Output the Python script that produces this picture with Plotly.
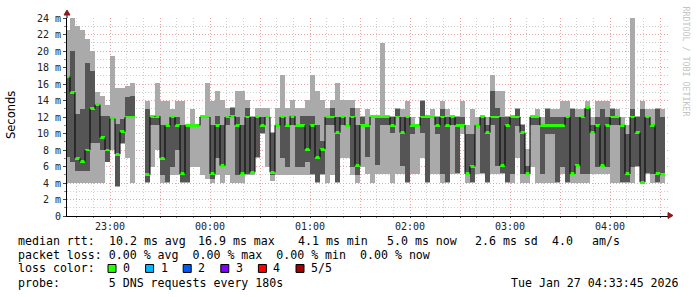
import plotly.graph_objects as go
import pandas as pd

# ---------------- data (ms) ----------------
START = "2026-01-26 22:33:00"   # start of first 180 s step
STEP_S = 180

rtt_min = [4.0, 4.0, 4.0, 4.0, 4.0, 4.0, 4.0, 4.0, 6.5, 8.0, 3.5, 8.7, 7.0, 4.0, None, None,
           4.0, 6.0, 8.0, 4.0, 4.0, 5.0, 5.0, 4.0, 4.0, 6.0, 6.0, 5.0, 4.5, 4.0, 5.0, 4.0,
           5.0, 4.0, 4.0, 4.0, 5.0, 5.0, 7.0, 10.0, 6.0, 4.3, 5.0, 5.0, 5.0, 5.0, 5.0, 5.0,
           5.0, 5.0, 4.0, 5.0, 4.0, 5.0, 4.0, 7.0, 7.0, 5.0, 4.0, 6.0, 5.1, 4.0, 5.1, 5.1,
           5.1, 4.0, 5.1, 5.1, 4.0, 5.1, 5.1, 7.0, 4.0, 5.1, 5.1, 4.0, 4.0, 5.1, 5.1, 10.0,
           4.0, 4.0, 5.1, 5.1, 4.0, 5.1, 5.1, 5.1, 4.0, 4.0, 7.0, 4.0, 4.0, 6.0, 4.0, 4.0,
           4.0, 4.0, 4.0, 5.1, 4.0, 4.0, 4.0, 4.0, 4.0, 5.1, 5.1, 5.1, 5.1, 4.0, 4.0, 4.0,
           4.0, 4.0, 6.0, 3.9, 5.1, 4.0, 4.0, 4.0]
rtt_q1 = [7.2, 6.6, 5.5, 5.5, 5.5, 8.9, 8.8, 8.0, 6.6, 11.7, 3.6, 8.8, 12.0, 12.0, None, None,
          4.1, 11.0, 11.0, 5.0, 4.1, 6.0, 8.0, 4.1, 4.1, 10.9, 10.9, 11.9, 11.9, 4.5, 7.0, 6.0,
          11.0, 11.9, 5.0, 5.0, 5.1, 5.2, 7.1, 10.1, 11.9, 5.0, 10.9, 7.0, 6.0, 11.0, 6.0, 6.0,
          6.5, 5.1, 4.1, 5.1, 11.0, 11.0, 4.1, 11.0, 10.9, 6.0, 5.0, 10.9, 7.1, 11.9, 6.2, 11.0,
          11.0, 10.1, 11.9, 6.1, 4.1, 10.0, 10.9, 10.1, 4.1, 11.9, 10.0, 5.1, 4.1, 11.0, 5.2, 10.9,
          5.0, 4.1, 10.9, 5.2, 4.1, 11.0, 6.1, 5.2, 4.1, 5.1, 10.9, 5.1, 5.0, 11.0, 11.0, 5.1,
          10.0, 10.0, 4.1, 6.0, 4.1, 5.0, 6.0, 5.1, 5.1, 10.0, 6.0, 6.0, 6.0, 11.0, 11.0, 4.1,
          4.1, 6.0, 6.1, 4.0, 5.2, 5.1, 4.1, 4.9]
rtt_median = [16.9, 15.0, 7.0, 6.6, 8.0, 13.0, 13.5, 9.5, 8.0, 11.8, 7.5, 10.2, 12.0, 12.0, None, None,
              5.0, 12.0, 12.1, 7.0, 11.0, 12.0, 11.0, 5.1, 11.0, 11.0, 11.0, 12.0, 12.0, 5.1, 11.0, 6.1,
              12.0, 12.1, 11.0, 5.1, 12.0, 5.3, 12.0, 11.0, 12.0, 5.3, 11.0, 12.0, 11.0, 12.1, 11.0, 11.0,
              8.1, 11.0, 7.1, 8.1, 12.0, 12.0, 10.1, 12.0, 11.0, 12.0, 6.1, 11.0, 11.0, 12.0, 12.0, 12.0,
              12.0, 11.0, 12.0, 10.1, 12.0, 11.0, 11.0, 12.0, 12.0, 12.0, 11.0, 12.0, 11.0, 12.0, 11.0, 11.0,
              5.1, 6.0, 11.0, 12.0, 10.1, 12.0, 12.0, 6.1, 11.0, 12.0, 12.0, 10.1, 5.1, 12.0, 12.0, 11.0,
              11.0, 11.0, 11.0, 11.0, 12.0, 5.1, 6.1, 12.0, 13.1, 10.1, 11.0, 6.1, 11.0, 12.0, 12.0, 11.0,
              5.1, 12.0, 10.1, 4.1, 12.0, 11.0, 5.1, 5.0]
rtt_q3 = [17.1, 20.0, 12.4, 13.0, 18.6, 17.6, 13.6, 12.1, 12.1, 11.9, 11.1, 11.7, 14.4, 14.5, None, None,
          13.0, 12.0, 12.2, 11.0, 11.1, 12.1, 12.0, 11.0, 11.0, 11.1, 11.1, 12.1, 12.1, 11.0, 12.1, 11.0,
          12.1, 13.1, 12.0, 11.0, 13.1, 12.0, 12.1, 12.0, 12.1, 10.1, 11.1, 12.1, 11.1, 12.2, 11.1, 12.1,
          12.1, 12.1, 11.0, 9.1, 12.1, 13.1, 12.0, 12.1, 11.1, 13.1, 11.0, 12.0, 11.1, 12.1, 12.1, 12.1,
          12.1, 12.0, 13.0, 12.0, 12.1, 11.1, 11.1, 14.0, 12.1, 12.1, 12.0, 13.0, 12.0, 12.1, 12.0, 12.0,
          10.0, 10.0, 11.1, 12.1, 11.0, 15.1, 13.1, 12.0, 12.0, 12.1, 13.0, 11.0, 6.1, 12.1, 12.1, 11.1,
          13.0, 12.0, 12.0, 12.0, 12.1, 13.0, 12.0, 12.1, 13.2, 11.0, 12.0, 13.0, 12.0, 13.0, 12.1, 11.1,
          10.0, 13.0, 12.0, 13.0, 12.1, 11.1, 13.0, 12.0]
rtt_max = [22.6, 24.1, 23.0, 22.6, 21.4, 20.0, 15.0, 14.6, 13.5, 19.4, 15.5, 15.5, 15.7, 16.1, None, None,
           14.0, 12.2, 16.1, 14.0, 14.0, 13.0, 14.0, 14.0, 11.1, 13.0, 11.2, 12.2, 16.1, 14.0, 15.1, 14.1,
           13.1, 13.2, 15.1, 15.1, 14.1, 12.1, 13.1, 13.1, 13.1, 10.2, 13.1, 17.1, 13.1, 14.1, 13.1, 13.1,
           14.1, 17.1, 15.1, 14.1, 13.1, 14.1, 16.1, 14.1, 14.1, 14.1, 13.1, 12.1, 13.0, 12.2, 12.2, 21.0,
           12.2, 12.1, 13.1, 13.0, 14.0, 12.0, 11.2, 14.1, 12.2, 13.0, 12.1, 14.0, 13.0, 12.2, 12.1, 14.0,
           11.0, 13.0, 12.0, 12.2, 12.0, 17.1, 15.1, 15.1, 12.1, 12.2, 13.1, 11.1, 8.1, 12.2, 13.0, 12.0,
           13.1, 13.0, 13.0, 14.0, 14.0, 13.1, 13.0, 13.0, 14.0, 12.0, 14.0, 14.0, 14.0, 13.1, 13.0, 12.0,
           11.0, 24.1, 12.1, 14.0, 13.0, 13.0, 13.1, 13.0]

y_tick_values = [0, 2, 4, 6, 8, 10, 12, 14, 16, 18, 20, 22, 24]
y_tick_labels = ["0", "2 m", "4 m", "6 m", "8 m", "10 m", "12 m", "14 m", "16 m",
                 "18 m", "20 m", "22 m", "24 m"]
x_tick_values = ["2026-01-26 22:30", "2026-01-26 23:00", "2026-01-26 23:30", "2026-01-27 00:00",
                 "2026-01-27 00:30", "2026-01-27 01:00", "2026-01-27 01:30", "2026-01-27 02:00",
                 "2026-01-27 02:30", "2026-01-27 03:00", "2026-01-27 03:30", "2026-01-27 04:00",
                 "2026-01-27 04:30"]
x_tick_labels = ["", "23:00", "", "00:00", "", "01:00", "", "02:00", "", "03:00", "", "04:00", ""]

loss_labels = ["0", "1", "2", "3", "4", "5/5"]
loss_colors = ["#26ff00", "#00b8ff", "#0059ff", "#7e00ff", "#ff0000", "#a10000"]

# legend rows: (text pieces, x positions in px)
rtt_pieces = ["median rtt:", "10.2 ms avg", "16.9 ms max", "4.1 ms min", "5.0 ms now",
              "2.6 ms sd", "4.0", "am/s"]
rtt_piece_x = [16, 107, 196, 296, 385, 473, 550, 590]
loss_line = "packet loss: 0.00 % avg  0.00 % max  0.00 % min  0.00 % now"
color_line = "loss color:"
probe_line = "probe:       5 DNS requests every 180s"
stamp = "Tue Jan 27 04:33:45 2026"

# ---------------- derived ----------------
n = len(rtt_median)
t_start = pd.date_range(START, periods=n, freq=f"{STEP_S}s")
t_mid = t_start + pd.Timedelta(seconds=STEP_S / 2)
step_ms = STEP_S * 1000


def diff(a, b):
    return [None if (x is None or y is None) else round(y - x, 3) for x, y in zip(a, b)]


fig = go.Figure()
# outer smoke (min..max)
fig.add_bar(x=t_mid, y=diff(rtt_min, rtt_max), base=[v if v is not None else 0 for v in rtt_min],
            width=step_ms, marker=dict(color="#aaaaaa", line=dict(width=0)), hoverinfo="skip")
# inner smoke (2nd..4th ping)
fig.add_bar(x=t_mid, y=diff(rtt_q1, rtt_q3), base=[v if v is not None else 0 for v in rtt_q1],
            width=step_ms, marker=dict(color="#555555", line=dict(width=0)), hoverinfo="skip")
# median (green, loss 0)
GH = 0.36
fig.add_bar(x=t_mid, y=[GH if m is not None else None for m in rtt_median],
            base=[m - GH / 2 if m is not None else 0 for m in rtt_median],
            width=step_ms, marker=dict(color=loss_colors[0], line=dict(width=0)), hoverinfo="skip")

# black vertical connectors between consecutive medians
vx, vy = [], []
for k in range(n - 1):
    a, b = rtt_median[k], rtt_median[k + 1]
    if a is None or b is None:
        continue
    vx += [t_start[k + 1], t_start[k + 1], None]
    vy += [a, b, None]
fig.add_scatter(x=vx, y=vy, mode="lines", line=dict(color="black", width=1),
                hoverinfo="skip", connectgaps=False)

# ---------------- layout ----------------
L, R, T, B = 67, 29, 16, 81
W, H = 697, 297
PW, PH = W - L - R, H - T - B


def px(x, y):
    return (x - L) / PW, (H - B - y) / PH


MONO = "DejaVu Sans Mono"
grid_dash = "1px,2px"

fig.update_layout(
    width=W, height=H, margin=dict(l=L, r=R, t=T, b=B),
    paper_bgcolor="white", plot_bgcolor="white",
    barmode="overlay", bargap=0, showlegend=False,
    xaxis=dict(
        type="date",
        range=["2026-01-26 22:34:12", "2026-01-27 04:34:48"],
        tickmode="array", tickvals=x_tick_values, ticktext=x_tick_labels,
        showgrid=True, gridcolor="#e8a4a4", griddash=grid_dash, gridwidth=1,
        minor=dict(tickmode="linear", tick0="2026-01-26 22:30", dtick=600000,
                   showgrid=True, gridcolor="#cfcfcf", griddash=grid_dash, gridwidth=1,
                   ticks="outside", ticklen=1, tickcolor="#888888"),
        ticks="outside", ticklen=1, tickcolor="#444444",
        showline=True, linecolor="black", linewidth=1, zeroline=False,
        tickfont=dict(family=MONO, size=10, color="#222222"),
        fixedrange=True,
    ),
    yaxis=dict(
        range=[0, 24],
        tickmode="array", tickvals=y_tick_values, ticktext=y_tick_labels,
        showgrid=True, gridcolor="#e8a4a4", griddash=grid_dash, gridwidth=1,
        minor=dict(tickmode="linear", tick0=0, dtick=1,
                   showgrid=True, gridcolor="#cfcfcf", griddash=grid_dash, gridwidth=1,
                   ticks="outside", ticklen=2, tickcolor="#888888"),
        ticks="outside", ticklen=3, tickcolor="#444444",
        showline=True, linecolor="black", linewidth=1, zeroline=False,
        tickfont=dict(family=MONO, size=10, color="#222222"),
        fixedrange=True,
    ),
)

shapes = []
# axis extension and arrows
_, ytop = px(67, 12)
shapes.append(dict(type="line", xref="paper", yref="paper", x0=0, x1=0, y0=1, y1=ytop,
                   line=dict(color="black", width=1)))
ax1, ay1 = px(64, 13)
ax2, ay2 = px(67, 8)
ax3, _ = px(70, 13)
shapes.append(dict(type="path", xref="paper", yref="paper",
                   path=f"M {ax1},{ay1} L {ax2},{ay2} L {ax3},{ay1} Z",
                   fillcolor="#8b1a1a", line=dict(color="#8b1a1a", width=1)))
bx1, by1 = px(668, 212.5)
bx2, by2 = px(673, 215.5)
_, by3 = px(668, 218.5)
shapes.append(dict(type="path", xref="paper", yref="paper",
                   path=f"M {bx1},{by1} L {bx2},{by2} L {bx1},{by3} Z",
                   fillcolor="#8b1a1a", line=dict(color="#8b1a1a", width=1)))

annotations = []
LEG_FS = 11.6
line_y = [241, 255, 269, 284]


def nb(s):
    return s.replace(" ", "\u00a0")


def text_at(x, y, s, anchor="left"):
    xx, yy = px(x, y)
    annotations.append(dict(x=xx, y=yy, xref="paper", yref="paper", text=nb(s),
                            showarrow=False, xanchor=anchor, yanchor="middle",
                            font=dict(family=MONO, size=LEG_FS, color="black")))


for piece, xp in zip(rtt_pieces, rtt_piece_x):
    text_at(xp, line_y[0], piece)
text_at(16, line_y[1], loss_line)
text_at(16, line_y[2], color_line)
text_at(16, line_y[3], probe_line)
text_at(681, line_y[3], stamp, anchor="right")

# loss colour boxes
for i, (lab, col) in enumerate(zip(loss_labels, loss_colors)):
    bxl = 108 + 37.6 * i
    p0 = px(bxl, 273)
    p1 = px(bxl + 8, 265)
    shapes.append(dict(type="rect", xref="paper", yref="paper", x0=p0[0], y0=p0[1],
                       x1=p1[0], y1=p1[1], fillcolor=col, line=dict(color="black", width=1)))
    text_at(bxl + 13, line_y[2], lab)

# y-axis title
tx, ty = px(11, 114)
annotations.append(dict(x=tx, y=ty, xref="paper", yref="paper", text="Seconds",
                        showarrow=False, textangle=-90, xanchor="center", yanchor="middle",
                        font=dict(family="DejaVu Sans", size=11.5, color="black")))
# watermark
wx, wy = px(686, 60)
annotations.append(dict(x=wx, y=wy, xref="paper", yref="paper", text=nb("RRDTOOL / TOBI OETIKER"),
                        showarrow=False, textangle=90, xanchor="center", yanchor="middle",
                        font=dict(family=MONO, size=8.3, color="#c4c4c4")))

fig.update_layout(shapes=shapes, annotations=annotations)
fig.write_html("out.html")
